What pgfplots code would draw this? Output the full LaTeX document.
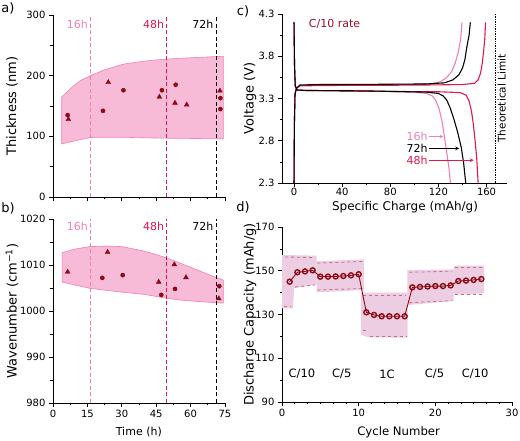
\documentclass[border=0pt]{standalone}
\usepackage{fontspec}
\setmainfont{DejaVu Sans}
\usepackage{pgfplots}
\pgfplotsset{compat=1.18}
\definecolor{bandA}{HTML}{F7BAD7}
\definecolor{bandAedge}{HTML}{F27FB3}
\definecolor{pinkl}{HTML}{F07FB6}
\definecolor{redl}{HTML}{E3174A}
\definecolor{ptred}{HTML}{8E0A14}
\definecolor{bandD}{HTML}{ECCDE1}
\definecolor{dashD}{HTML}{C56B8C}
\definecolor{rateC}{HTML}{9A0E2A}
\pgfplotsset{
  base/.style={scale only axis, anchor=south west, clip=false,
    axis x line*=bottom, axis y line*=left, tick align=outside,
    major tick length=4pt, minor tick length=2.5pt,
    every tick/.style={black, line width=0.6pt},
    axis line style={line width=0.7pt},
    tick label style={font=\fontsize{10}{12}\selectfont},
    every axis label/.append style={font=\fontsize{13}{15}\selectfont},
    /pgf/number format/assume math mode=true,
    /pgf/number format/1000 sep={},
    minor tick num=1},
}
\tikzset{annot/.style={font=\fontsize{11}{13}\selectfont},
  dd/.style={dashD, line width=0.8pt, dash pattern=on 3pt off 3pt}}
\begin{document}
\begin{tikzpicture}
\useasboundingbox (0pt,0pt) rectangle (520pt,441pt);
% ---------------- panel a
\begin{axis}[base, at={(53pt,244pt)}, width=172pt, height=182pt,
  xmin=0, xmax=75, ymin=0, ymax=300,
  xtick={0,15,...,75}, xticklabels={},
  ytick={0,100,200,300},
  ylabel={Thickness (nm)},
  ylabel style={at={(axis description cs:-0.238,0.5)}, anchor=center}]
\addplot[fill=bandA, draw=bandAedge, line width=0.6pt] coordinates {
(3.8,165) (8,180) (12,192) (16.4,200) (22,209) (30.7,219) (40,224) (48,227) (60,229.5) (74.3,232)
(74.3,96) (60,96.5) (48,97) (40,97.5) (30,98.5) (20,98.5) (16.4,98) (10,93) (3.8,87.5)} -- cycle;
\addplot[pinkl, line width=1pt, dash pattern=on 4pt off 2.5pt] coordinates {(16.4,0) (16.4,300)};
\addplot[redl, line width=1pt, dash pattern=on 4pt off 2.5pt] coordinates {(49.6,0) (49.6,300)};
\addplot[black, line width=1pt, dash pattern=on 4pt off 2.5pt] coordinates {(71.1,0) (71.1,300)};
\addplot[only marks, mark=*, mark size=2.1pt, ptred] coordinates {
(6.4,135) (21.8,142) (30.7,176) (47.5,176) (53.5,185) (73,163) (73,145)};
\addplot[only marks, mark=triangle*, mark size=2.8pt, ptred] coordinates {
(6.7,128) (24.1,189) (46.4,165) (53.2,155) (58.3,152) (72.8,175)};
\node[annot, anchor=east, inner sep=2.5pt, text=pinkl] at (axis cs:16.4,285) {16h};
\node[annot, anchor=east, inner sep=2.5pt, text=redl] at (axis cs:49.6,285) {48h};
\node[annot, anchor=east, inner sep=2.5pt, text=black] at (axis cs:71.1,285) {72h};
\end{axis}
% ---------------- panel b
\begin{axis}[base, at={(53pt,38pt)}, width=172pt, height=184pt,
  xmin=0, xmax=75, ymin=980, ymax=1020,
  xtick={0,15,...,75},
  ytick={980,990,...,1020},
  xlabel={Time (h)},
  xlabel style={font=\fontsize{11}{13}\selectfont, at={(axis description cs:0.499,-0.158)}, anchor=center},
  ylabel={Wavenumber (cm\textsuperscript{−1})},
  ylabel style={at={(axis description cs:-0.238,0.5)}, anchor=center}]
\addplot[fill=bandA, draw=bandAedge, line width=0.6pt] coordinates {
(4,1012.7) (10,1013.5) (16,1014) (24,1014.1) (30,1014) (40,1013) (48,1011.8) (55,1010.5) (65,1008.5) (74.3,1006.7)
(74.3,1001.7) (65,1002) (55,1002.4) (48,1002.9) (40,1003.6) (30,1004.1) (16.4,1004.9) (10,1005.6) (4,1006.3)} -- cycle;
\addplot[pinkl, line width=1pt, dash pattern=on 4pt off 2.5pt] coordinates {(16.4,980) (16.4,1020)};
\addplot[redl, line width=1pt, dash pattern=on 4pt off 2.5pt] coordinates {(49.6,980) (49.6,1020)};
\addplot[black, line width=1pt, dash pattern=on 4pt off 2.5pt] coordinates {(71.1,980) (71.1,1020)};
\addplot[only marks, mark=*, mark size=2.1pt, ptred] coordinates {
(21.5,1007.2) (30.4,1007.8) (47.2,1003.5) (53.2,1004.8) (72.5,1005.4)};
\addplot[only marks, mark=triangle*, mark size=2.8pt, ptred] coordinates {
(6.4,1008.5) (23.8,1012.8) (46.1,1006.3) (52.9,1010.1) (58,1007.3) (72.3,1002.7)};
\node[annot, anchor=east, inner sep=2.5pt, text=pinkl] at (axis cs:16.4,1018.4) {16h};
\node[annot, anchor=east, inner sep=2.5pt, text=redl] at (axis cs:49.6,1018.4) {48h};
\node[annot, anchor=east, inner sep=2.5pt, text=black] at (axis cs:71.1,1018.4) {72h};
\end{axis}
% ---------------- panel c
\begin{axis}[base, at={(282pt,258pt)}, width=225pt, height=169pt,
  xmin=-10, xmax=177, ymin=2.3, ymax=4.3,
  xtick={0,40,...,160},
  ytick={2.3,2.8,3.3,3.8,4.3},
  xticklabel style={inner sep=1pt},
  yticklabel style={/pgf/number format/fixed, /pgf/number format/precision=1, /pgf/number format/fixed zerofill},
  xlabel={Specific Charge (mAh/g)},
  xlabel style={font=\fontsize{12}{14}\selectfont, at={(axis description cs:0.547,-0.145)}, anchor=center},
  ylabel={Voltage (V)},
  ylabel style={at={(axis description cs:-0.142,0.5)}, anchor=center}]
\addplot[densely dotted, black, line width=0.7pt] coordinates {(167.5,2.3) (167.5,4.3)};
\node[font=\fontsize{10.5}{12}\selectfont, rotate=90] at (axis cs:172.6,3.3) {Theoretical Limit};
% 16h pink
\addplot[pinkl, line width=1.1pt] coordinates {
(0,2.3) (0.3,3.0) (0.8,3.35) (2,3.42) (5,3.455) (20,3.46) (60,3.462) (100,3.468) (115,3.475) (122,3.5) (127,3.55) (131,3.62) (134,3.72) (136.5,3.85) (138.5,4.0) (139.6,4.2)};
\addplot[pinkl, line width=1.1pt] coordinates {
(0,4.2) (0.4,3.7) (1,3.45) (2.5,3.40) (10,3.395) (60,3.39) (100,3.375) (110,3.36) (115,3.33) (118,3.27) (120.5,3.18) (123,3.03) (125,2.85) (127,2.65) (128.8,2.47) (130,2.3)};
% 48h red
\addplot[redl, line width=1.1pt] coordinates {
(0,2.3) (0.3,3.0) (0.8,3.35) (2,3.42) (5,3.45) (40,3.455) (100,3.458) (140,3.465) (150,3.48) (153,3.52) (155,3.6) (156.5,3.72) (157.5,3.85) (158.5,4.0) (159.2,4.2)};
\addplot[redl, line width=1.1pt] coordinates {
(0,4.2) (0.4,3.7) (1,3.45) (2.5,3.40) (10,3.395) (60,3.385) (120,3.38) (138,3.37) (143,3.34) (145.5,3.27) (147.5,3.15) (149,3.0) (150.5,2.8) (151.8,2.6) (153,2.3)};
% 72h black
\addplot[black, line width=1.1pt] coordinates {
(0,2.3) (0.3,3.0) (0.8,3.35) (2,3.42) (5,3.46) (20,3.465) (60,3.467) (110,3.472) (125,3.485) (132,3.52) (137,3.58) (140,3.66) (142,3.76) (143.5,3.9) (145.5,4.05) (146.5,4.2)};
\addplot[black, line width=1.1pt] coordinates {
(0,4.2) (0.4,3.7) (1,3.45) (2.5,3.40) (10,3.395) (60,3.39) (110,3.375) (120,3.36) (124,3.33) (127,3.28) (130,3.18) (133,3.05) (136,2.9) (139,2.72) (141,2.53) (142.7,2.3)};
\node[annot, text=rateC] at (axis cs:33.7,4.18) {C/10 rate};
\node[annot, anchor=east, inner sep=1pt, text=pinkl] at (axis cs:112,2.85) {16h};
\draw[->, >=stealth, pinkl, line width=0.7pt] (axis cs:112,2.85) -- (axis cs:124,2.85);
\node[annot, anchor=east, inner sep=1pt, text=black] at (axis cs:112,2.71) {72h};
\draw[->, >=stealth, black, line width=0.7pt] (axis cs:112,2.71) -- (axis cs:137.2,2.71);
\node[annot, anchor=east, inner sep=1pt, text=redl] at (axis cs:112,2.57) {48h};
\draw[->, >=stealth, redl, line width=0.7pt] (axis cs:112,2.57) -- (axis cs:149.3,2.57);
\end{axis}
% ---------------- panel d
\begin{axis}[base, at={(282pt,39pt)}, width=230pt, height=175pt,
  xmin=0, xmax=30, ymin=90, ymax=170,
  xtick={0,10,20,30}, minor x tick num=5,
  ytick={90,110,...,170},
  xlabel={Cycle Number},
  xlabel style={font=\fontsize{11.7}{14}\selectfont, at={(axis description cs:0.507,-0.171)}, anchor=center},
  ylabel={Discharge Capacity (mAh/g)},
  ylabel style={at={(axis description cs:-0.139,0.5)}, anchor=center}]
\addplot[fill=bandD, draw=none] coordinates {(0,157.2) (4.5,156.9) (4.5,143.6) (1.6,142.0) (1.4,132.8) (0,132.8)} -- cycle;
\addplot[fill=bandD, draw=none] coordinates {(4.5,154.3) (10.7,155.2) (10.7,141.2) (4.5,140.1)} -- cycle;
\addplot[fill=bandD, draw=none] coordinates {(10.3,140.0) (16.4,140.0) (16.4,119.4) (11.2,119.6) (10.3,120.9)} -- cycle;
\addplot[fill=bandD, draw=none] coordinates {(16.35,150.3) (22.4,150.6) (22.4,136.2) (16.35,134.3)} -- cycle;
\addplot[fill=bandD, draw=none] coordinates {(22.4,152.3) (26.35,152.3) (26.35,139.7) (22.4,138.9)} -- cycle;
\addplot[dd] coordinates {(0.4,156.3) (4.3,156.0)};
\addplot[dd] coordinates {(1.7,142.6) (4.3,143.5)};
\addplot[dd] coordinates {(0.3,133.9) (1.2,133.9)};
\addplot[dd] coordinates {(4.6,153.5) (10.5,154.2)};
\addplot[dd] coordinates {(4.6,141.2) (10.5,141.9)};
\addplot[dd] coordinates {(10.6,138.9) (16.2,138.9)};
\addplot[dd] coordinates {(11.5,120.2) (16.2,120.2)};
\addplot[dd] coordinates {(10.5,122.9) (11.0,122.9)};
\addplot[dd] coordinates {(16.6,149.3) (22.2,149.8)};
\addplot[dd] coordinates {(16.6,135.4) (22.2,136.3)};
\addplot[dd] coordinates {(22.6,151.4) (26.2,151.4)};
\addplot[dd] coordinates {(22.6,139.3) (26.2,139.3)};
\addplot[ptred, line width=0.9pt, mark=o, mark size=2.5pt, mark options={fill=white, line width=1.4pt}] coordinates {
(1,145) (2,149.3) (3,149.7) (4,150.2) (5,147.3) (6,147.3) (7,147.4) (8,147.6) (9,147.9) (10,148.4)
(11,131) (12,129.8) (13,129.2) (14,129.2) (15,129.2) (16,129.2)
(17,142.4) (18,142.6) (19,142.8) (20,143) (21,143) (22,143.3)
(23,145.3) (24,145.5) (25,145.8) (26,146.2)};
\node[font=\fontsize{11.5}{13}\selectfont] at (axis cs:2.6,102.8) {C/10};
\node[font=\fontsize{11.5}{13}\selectfont] at (axis cs:7.8,102.8) {C/5};
\node[font=\fontsize{11.5}{13}\selectfont] at (axis cs:13.7,102.8) {1C};
\node[font=\fontsize{11.5}{13}\selectfont] at (axis cs:19.9,102.8) {C/5};
\node[font=\fontsize{11.5}{13}\selectfont] at (axis cs:25.2,102.8) {C/10};
\end{axis}
% panel letters
\node[font=\fontsize{13}{15}\selectfont] at (8pt,433pt) {a)};
\node[font=\fontsize{13}{15}\selectfont] at (8pt,233pt) {b)};
\node[font=\fontsize{13}{15}\selectfont] at (243pt,430pt) {c)};
\node[font=\fontsize{13}{15}\selectfont] at (243pt,234pt) {d)};
\end{tikzpicture}
\end{document}
